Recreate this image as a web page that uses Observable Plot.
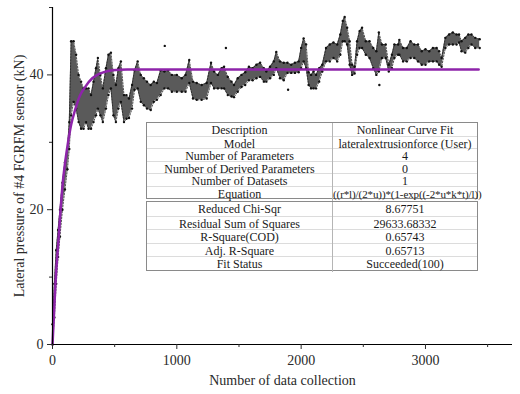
<!DOCTYPE html>
<html>
<head>
<meta charset="utf-8">
<script src="https://cdn.jsdelivr.net/npm/d3@7"></script>
<script src="https://cdn.jsdelivr.net/npm/@observablehq/plot@0.6"></script>
<style>
  body { margin: 0; background: #fff; }
  #wrap { position: relative; width: 520px; height: 394px; font-family: "Liberation Serif", "DejaVu Serif", serif; }
  .box { position: absolute; left: 146px; width: 332px; border: 1px solid #8a8a8a; background: #fff; box-sizing: border-box; }
  .row { display: grid; grid-template-columns: 186px 1fr; border-top: 1px solid #dcdcdc; box-sizing: border-box; }
  .row:first-child { border-top: none; }
  .row div { display: flex; align-items: center; justify-content: center; font-size: 12px; color: #1a1a1a; white-space: nowrap; }
  .row div:first-child { border-right: 1px solid #b5b5b5; }
  .row div.eq { font-size: 11px; letter-spacing: -0.1px; }
</style>
</head>
<body>
<div id="wrap"></div>
<script>
// Data collection index (sample positions) and band envelope (kN)
const xs = [0,15,30,45,60,80,100,120,135,150,170,190,210,230,250,270,290,310,330,350,365,385,405,430,450,470,490,510,530,550,575,595,615,640,660,685,710,735,760,790,815,840,870,900,930,960,1000,1040,1070,1100,1130,1160,1200,1240,1275,1300,1330,1360,1380,1410,1440,1460,1490,1520,1550,1580,1610,1640,1670,1700,1720,1750,1780,1800,1830,1860,1890,1920,1950,1980,2000,2020,2040,2060,2080,2100,2120,2145,2170,2200,2230,2260,2290,2315,2335,2350,2370,2390,2410,2430,2450,2470,2490,2520,2550,2580,2605,2625,2650,2680,2705,2730,2750,2780,2790,2820,2850,2880,2910,2940,2970,3000,3030,3060,3090,3110,3130,3160,3190,3220,3250,3270,3290,3320,3345,3370,3400,3436];
const lo = [0,4,9,13,16,20,23,26,29,34,36,35,33,32,32,33,32,32,33,34,35,34,33,35,37,38,34,33,35,36,33,33.5,33.6,35,37.8,38,36,35.5,35,34.8,36,36.3,37,38,38,37.5,37.5,37.5,37.5,38.8,36.5,36.3,36.3,36.5,38.8,38,38,38,38,37,36.8,36.7,37.5,38.2,38.5,39.2,39.2,39.5,39.7,39,39,39.5,40,41,39.5,39.2,40.3,40.3,40.3,40.4,41,42,41,38.5,38,38,38,39,40.5,42,42,42.5,42,43,45,45,44.5,41.5,40,40.2,43,44,44,43,42.5,41,40,40.5,42.5,42.5,40.5,41,42.5,43,43,42,42,42.5,42.5,42,41.5,41.5,42,42,42,41.5,41.2,44,44.5,44.5,44.5,44.8,43.5,43.3,44,44.5,44,44];
const hi = [3,9,14,17,20,24,27,29,33,45,45,43,40,39,38,38,38,37,39,41,42.5,40,38,41,43,43.3,40,38.5,41,42,37,37,36.5,38.5,40.7,42,40,39.5,39,38.5,39,38.8,40.7,40.5,40.7,40,40,39.5,40,42.2,39,38.8,38.5,38.8,41.8,40.5,40,41,41.2,39.7,39,38.5,39.5,40,40.4,41.2,41,41.5,41.8,41,40.5,41.2,42,43.4,42,41.8,41.8,41.5,41.8,42,44,45.4,44.5,40.4,40,40.5,40,41,41.5,44,44.5,44.8,44.5,46,48,48.6,47,45,41.5,41.2,45,46.5,47,45,45,44,43.5,46.3,44.5,44.5,41.5,43,44.5,44.5,45.2,44,44,45,44.5,44.5,43.5,43.8,43.5,44,44,43.5,42.5,45.5,46,46.3,46,46,45,45.5,46,46,45.5,45.3];
// isolated points
const outX = [903, 1395, 1895, 2629];
const outY = [44.3, 44, 37.8, 38.5];
// nonlinear fit curve
const fitX = [0,12,25,40,50,65,80,100,120,150,185,220,266,320,371,430,481,600,1000,2000,3428];
const fitY = [0,4.5,9.5,13.5,16,20,23.5,26.8,29.4,32.6,35,36.9,38.3,39.5,40.1,40.5,40.7,40.8,40.8,40.8,40.8];
// axis ticks
const xMajor = [0,1000,2000,3000];
const xMinor = [500,1500,2500,3500];
const yMajor = [0,20,40];
const yMinor = [10,30,50];

const band = xs.map((x,i)=>({x, lo: lo[i], hi: hi[i]}));
const outs = outX.map((x,i)=>({x, y: outY[i]}));
const fit = fitX.map((x,i)=>({x, y: fitY[i]}));

const font = "Liberation Serif";
const chart = Plot.plot({
  width: 520, height: 394,
  marginLeft: 52, marginRight: 8, marginTop: 7, marginBottom: 50,
  style: {fontFamily: font, fontSize: "14px", color: "#2a2a2a", background: "#fff"},
  x: {domain: [0, 3700]},
  y: {domain: [0, 50]},
  marks: [
    Plot.areaY(band, {x: "x", y1: "lo", y2: "hi", fill: "#5a5a5a", curve: "linear"}),
    Plot.line(band, {x: "x", y: "lo", stroke: "#222", strokeWidth: 0.8, strokeDasharray: "1.5,1.5"}),
    Plot.line(band, {x: "x", y: "hi", stroke: "#222", strokeWidth: 0.8, strokeDasharray: "1.5,1.5"}),
    Plot.dot(band, {x: "x", y: "lo", r: 1.2, fill: "#111"}),
    Plot.dot(band, {x: "x", y: "hi", r: 1.2, fill: "#111"}),
    Plot.dot(outs, {x: "x", y: "y", r: 1.2, fill: "#111"}),
    Plot.line(fit, {x: "x", y: "y", stroke: "#8e24aa", strokeWidth: 2.5, curve: "monotone-x"}),
    Plot.ruleX([0], {stroke: "#000", strokeWidth: 1.2}),
    Plot.ruleY([0], {stroke: "#000", strokeWidth: 1.2}),
    Plot.axisX({ticks: xMajor, tickFormat: d3.format("d"), tickSize: 5, tickPadding: 6, label: "Number of data collection", labelAnchor: "center", labelArrow: "none", labelOffset: 40, fontSize: 14}),
    Plot.axisX({ticks: xMinor, tickSize: 3, tickFormat: () => "", label: null}),
    Plot.axisY({ticks: yMajor, tickFormat: d3.format("d"), tickSize: 5, tickPadding: 4, label: "Lateral pressure of #4 FGRFM sensor (kN)", labelAnchor: "center", labelArrow: "none", labelOffset: 38, fontSize: 14}),
    Plot.axisY({ticks: yMinor, tickSize: 3, tickFormat: () => "", label: null})
  ]
});
const wrap = document.getElementById("wrap");
wrap.appendChild(chart);

const box1 = [["Description","Nonlinear Curve Fit"],["Model","lateralextrusionforce (User)"],["Number of Parameters","4"],["Number of Derived Parameters","0"],["Number of Datasets","1"],["Equation","((r*l)/(2*u))*(1-exp((-2*u*k*t)/l))"]];
const box2 = [["Reduced Chi-Sqr","8.67751"],["Residual Sum of Squares","29633.68332"],["R-Square(COD)","0.65743"],["Adj. R-Square","0.65713"],["Fit Status","Succeeded(100)"]];
function makeBox(rows, top, h) {
  const b = document.createElement("div");
  b.className = "box";
  b.style.top = top + "px";
  b.style.height = h + "px";
  const rh = (h - 2) / rows.length;
  rows.forEach(r => {
    const row = document.createElement("div");
    row.className = "row";
    row.style.height = rh + "px";
    r.forEach((t, j) => {
      const c = document.createElement("div");
      c.textContent = t;
      if (r[0] === "Equation" && j === 1) c.className = "eq";
      row.appendChild(c);
    });
    b.appendChild(row);
  });
  wrap.appendChild(b);
}
makeBox(box1, 122, 77);
makeBox(box2, 201, 70);
</script>
</body>
</html>
